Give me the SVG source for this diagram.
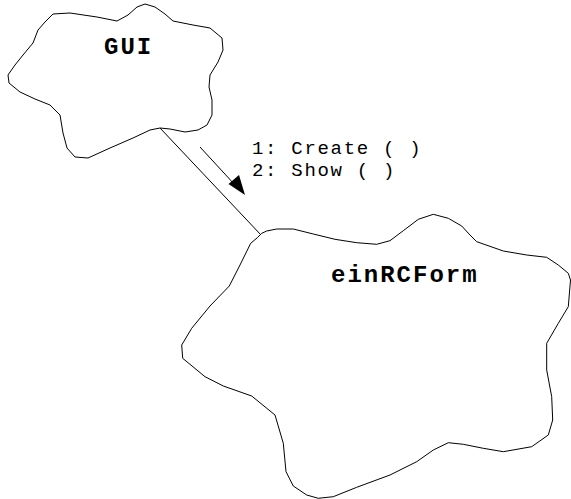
<svg xmlns="http://www.w3.org/2000/svg" width="571" height="499" viewBox="0 0 571 499">
  <style>
    .cloud { fill: #ffffff; stroke: #000000; stroke-width: 1; stroke-linejoin: round; }
    .name { font-family: "Liberation Mono", "DejaVu Sans Mono", monospace; font-weight: bold; font-size: 24px; letter-spacing: 2px; fill: #000000; }
    .msg { font-family: "Liberation Mono", "DejaVu Sans Mono", monospace; font-size: 19px; letter-spacing: 1.7px; fill: #000000; }
    .link { stroke: #000000; stroke-width: 1; fill: none; }
  </style>

  <rect width="571" height="499" fill="#ffffff"/>

  <!-- link between the two objects, with the message arrow beside it -->
  <g id="connectors">
    <line class="link" x1="160" y1="128" x2="261" y2="235"/>
    <line class="link" x1="200" y1="147" x2="235" y2="185"/>
    <polygon points="245,195 228.5,184 239,175" fill="#000000"/>
    <text class="msg" x="252" y="154">1: Create ( )</text>
    <text class="msg" x="252" y="176">2: Show ( )</text>
  </g>

  <!-- GUI object -->
  <g id="gui">
    <polygon class="cloud" points="45,22 53,14 70,13 97,17 117,21 128,15 137,7 145,4 155,7 165,14 173,21 193,25 210,28 222,38 223,50 218,62 210,75 209,87 212,100 212,115 207,125 198,130 185,132 170,129 160,128 150,130 133,138 110,148 88,158 75,157 67,148 63,133 60,115 50,105 35,99 20,92 9,83 8,75 15,65 23,55 33,43 38,30"/>
    <text class="name" x="104" y="54">GUI</text>
  </g>

  <!-- einRCForm object -->
  <g id="einRCForm">
    <polygon class="cloud" points="261.7,233.3 266.7,231 276.7,229 293.3,229 313.3,234 335,239.3 356.7,242.7 376.7,244.3 390,240.7 403.3,230.7 418.3,219.3 433.3,214.3 448.3,218.3 461.7,226 470,235 476.7,241.7 503.3,251 526.7,255 546.7,257.3 558.3,265 568.3,273.3 570.5,280 568.3,306.7 558.3,323.3 546.7,343.3 546.7,370 551.7,396.7 552.7,420 548.3,435 531.7,446.7 503.3,451.7 483.3,448.3 463.3,444.3 448.3,442.7 433.3,450 416.7,461.7 390,475 356.7,487.3 333.3,496.7 318.3,498.3 306.7,495 293.3,486 286,471.7 283.3,443.3 275,415 251.7,396 223.3,386 205,376.7 182.7,358.3 181.7,345 191.7,328.3 210,306 229.3,286 240,265 250.7,243.3 257.3,237.7"/>
    <text class="name" x="331" y="282">einRCForm</text>
  </g>
</svg>
